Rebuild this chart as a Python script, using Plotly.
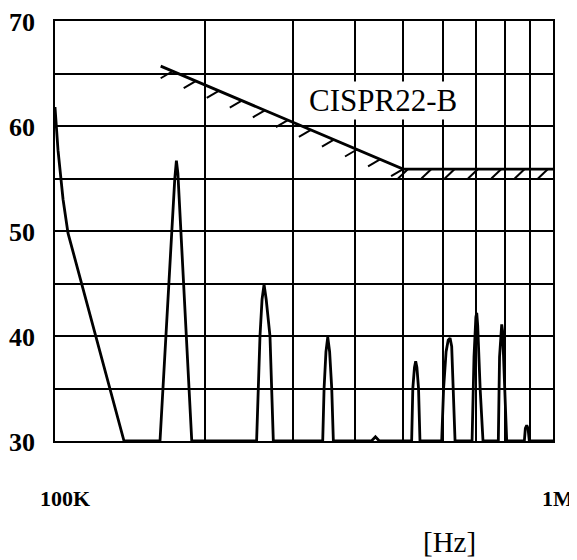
import numpy as np
import plotly.graph_objects as go

# ---------------- data ----------------
# measured spectrum: frequency [kHz] and level [dB]
spec_freq_khz = [100, 101.4, 103.8, 106.2, 137.6,
                 162.5, 174.0, 175.3, 176.5, 188.2,
                 254.0, 255.6, 258.0, 260.5, 262.9, 265.5, 270.2, 272.3, 274.4,
                 344.8, 347.0, 350.0, 352.9, 356.0, 359.5, 362.2,
                 432.0, 440.0, 448.0,
                 520.2, 523.0, 527.0, 530.0, 533.0, 537.0, 540.6,
                 597.7, 603.0, 610.0, 616.0, 621.3, 626.0, 631.0, 635.8,
                 687.8, 694.0, 700.0, 702.8, 706.0, 714.0, 723.5,
                 776.6, 781.0, 786.0, 788.9, 792.0, 799.0, 807.3,
                 875.9, 880.0, 885.6, 891.0, 896.3,
                 1000]
spec_level_db = [61.8, 57.7, 53.0, 49.8, 30.0,
                 30.0, 55.0, 56.7, 55.5, 30.0,
                 30.0, 35.0, 40.0, 43.5, 44.9, 43.5, 40.0, 35.0, 30.0,
                 30.0, 35.0, 38.5, 39.9, 38.5, 35.0, 30.0,
                 30.0, 30.4, 30.0,
                 30.0, 35.0, 37.0, 37.6, 37.0, 35.0, 30.0,
                 30.0, 35.0, 38.5, 39.6, 39.8, 39.0, 35.0, 30.0,
                 30.0, 38.0, 41.8, 42.2, 41.0, 35.0, 30.0,
                 30.0, 38.0, 40.5, 41.1, 40.5, 36.0, 30.0,
                 30.0, 31.2, 31.5, 31.2, 30.0,
                 30.0]

# CISPR22 class B limit line
limit_freq_khz = [163, 500, 1000]
limit_db = [65.7, 55.9, 55.9]
limit_label = "CISPR22-B"

# axis ticks
x_tick_khz = [100, 200, 300, 400, 500, 600, 700, 800, 900, 1000]
x_tick_text = ["100K", "", "", "", "", "", "", "", "", "1M"]
y_tick_vals = [30, 35, 40, 45, 50, 55, 60, 65, 70]
y_tick_text = ["30", "", "40", "", "50", "", "60", "", "70"]
x_unit = "[Hz]"

# ---------------- styling constants ----------------
PAGE_OFS = 8                       # default body margin of the html page
W, H = 577 - PAGE_OFS, 560 - PAGE_OFS
M_L, M_R, M_T, M_B = 55 - PAGE_OFS, 24, 21 - PAGE_OFS, 119
PX_PER_DEC = W - M_L - M_R          # 498 px for one decade
PLOT_H = H - M_T - M_B              # 420 px
PX_PER_DB = PLOT_H / 40.0           # 10.5 px per dB
SERIF = "Liberation Serif, Times New Roman, serif"
TICK_FONT_X = dict(family=SERIF, size=22, color="black", weight="bold")
TICK_FONT_Y = dict(family=SERIF, size=26, color="black", weight="bold")

spec_f = np.array(spec_freq_khz) * 1e3
lim_f = np.array(limit_freq_khz) * 1e3
lim_lf = np.log10(lim_f)

# hatch ticks along the limit line (derived from the limit arrays)
hx, hy = [], []
slope_pos = np.linspace(lim_lf[0] + 12 / PX_PER_DEC, lim_lf[1], 11)
for lx in slope_pos:
    ly = np.interp(lx, lim_lf, limit_db)
    hx += [10 ** lx, 10 ** (lx - 12 / PX_PER_DEC), None]
    hy += [ly, ly - 7 / PX_PER_DB, None]
flat_pos = np.linspace(lim_lf[1] + 5 / PX_PER_DEC, lim_lf[2] - 5 / PX_PER_DEC, 7)
for lx in flat_pos:
    ly = np.interp(lx, lim_lf, limit_db)
    hx += [10 ** lx, 10 ** (lx - 10 / PX_PER_DEC), None]
    hy += [ly, ly - 9.5 / PX_PER_DB, None]

fig = go.Figure()
fig.add_trace(go.Scatter(x=spec_f, y=spec_level_db, mode="lines",
                         line=dict(color="black", width=2.8), hoverinfo="skip"))
fig.add_trace(go.Scatter(x=lim_f, y=limit_db, mode="lines",
                         line=dict(color="black", width=2.8), hoverinfo="skip"))
fig.add_trace(go.Scatter(x=hx, y=hy, mode="lines",
                         line=dict(color="black", width=2), hoverinfo="skip"))

fig.add_annotation(x=np.log10(455e3), y=62.4, xref="x", yref="y",
                   text=limit_label, showarrow=False,
                   font=dict(family=SERIF, size=31, color="black"),
                   bgcolor="white", borderpad=1)

# x tick labels drawn as annotations at the tick positions
n_x = len(x_tick_khz)
for i, (v, t) in enumerate(zip(x_tick_khz, x_tick_text)):
    if t:
        last = i == n_x - 1
        fig.add_annotation(x=np.log10(v * 1e3), y=0, xref="x", yref="paper",
                           text=t, showarrow=False,
                           xanchor="right" if last else "center",
                           yanchor="middle", xshift=23 if last else 10,
                           yshift=-57, font=TICK_FONT_X)

# y tick labels drawn as annotations at the tick positions
for v, t in zip(y_tick_vals, y_tick_text):
    if t:
        fig.add_annotation(x=0, y=v, xref="paper", yref="y", text=t,
                           showarrow=False, xanchor="right", yanchor="middle",
                           xshift=-18, yshift=-1, font=TICK_FONT_Y)

fig.add_annotation(x=(449 - 55) / PX_PER_DEC, y=-(542 - 441) / PLOT_H,
                   xref="paper", yref="paper", text=x_unit, showarrow=False,
                   xanchor="center", yanchor="middle",
                   font=dict(family=SERIF, size=29, color="black"))

fig.update_xaxes(type="log", range=[5, 6], automargin=False,
                 tickvals=[v * 1e3 for v in x_tick_khz], showticklabels=False,
                 showgrid=True, gridcolor="black", gridwidth=2,
                 showline=True, linecolor="black", linewidth=2, mirror=True,
                 ticks="", zeroline=False)
fig.update_yaxes(range=[30, 70], automargin=False,
                 tickvals=y_tick_vals, showticklabels=False,
                 showgrid=True, gridcolor="black", gridwidth=2,
                 showline=True, linecolor="black", linewidth=2, mirror=True,
                 ticks="", zeroline=False)

fig.update_layout(width=W, height=H, margin=dict(l=M_L, r=M_R, t=M_T, b=M_B),
                  plot_bgcolor="white", paper_bgcolor="white", showlegend=False)

fig.write_html("out.html")
